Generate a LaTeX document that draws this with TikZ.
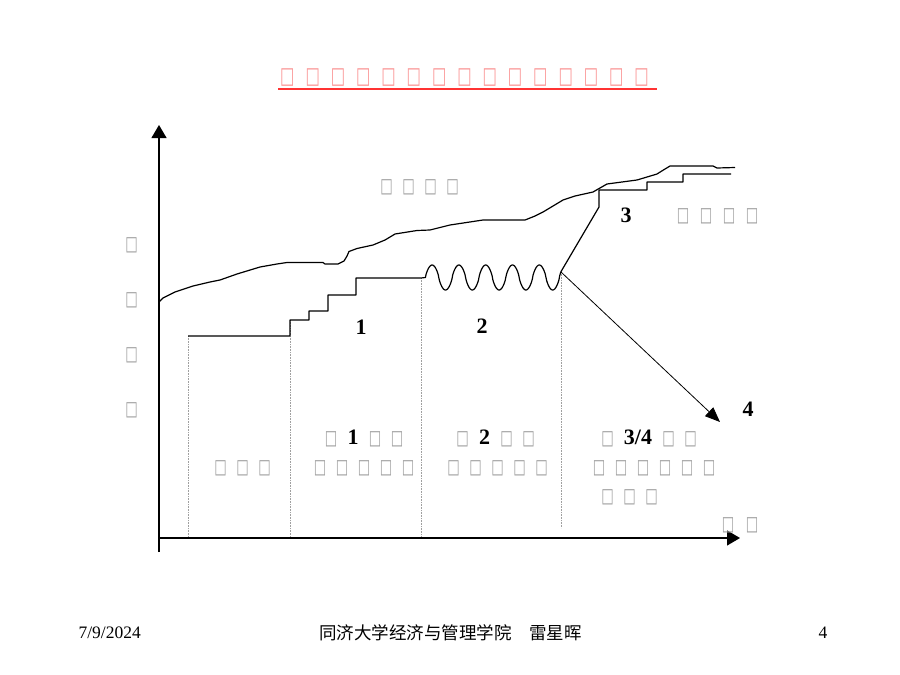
\documentclass[tikz,border=0pt]{standalone}
\usepackage{fontspec}
\usepackage{graphicx}
\setmainfont{Liberation Serif}
\newfontfamily\cjk{Noto Sans CJK SC}
\newfontfamily\tofufont{DejaVu Sans}
\usetikzlibrary{arrows.meta}
\definecolor{tofugray}{RGB}{160,160,160}
\definecolor{tofured}{RGB}{250,150,150}
\definecolor{titlered}{RGB}{255,51,51}
\newcommand{\tofu}[1][22pt]{\makebox[#1]{\scalebox{0.66}[1]{\tofufont □}}}
\newcommand{\stagenum}[2][22pt]{\makebox[#1]{\color{black}\bfseries\fontsize{22}{22}\selectfont #2}}

\begin{document}
\begin{tikzpicture}[x=1pt,y=-1pt,>={Triangle[width=15pt,length=13pt]},line width=1.2pt,
    curve/.style={line width=1.2pt,line join=round},
    guide/.style={densely dotted,tofugray,line width=0.6pt},
    tofu row/.style={inner sep=0pt,text=tofugray,font=\fontsize{20}{20}\selectfont},
    stage label/.style={inner sep=0pt,font=\bfseries\fontsize{22}{22}\selectfont},
    foot/.style={inner sep=0pt,font=\fontsize{17.5}{17.5}\selectfont}]
    \useasboundingbox (0,0) rectangle (900,675);

    \node[tofu row,text=tofured,font=\fontsize{23}{23}\selectfont] (title) at (464.5,78)
        {\tofu[25.3pt]\tofu[25.3pt]\tofu[25.3pt]\tofu[25.3pt]\tofu[25.3pt]\tofu[25.3pt]\tofu[25.3pt]\tofu[25.3pt]\tofu[25.3pt]\tofu[25.3pt]\tofu[25.3pt]\tofu[25.3pt]\tofu[25.3pt]\tofu[25.3pt]\tofu[25.3pt]};
    \coordinate (ul) at (278,88.7);
    \coordinate (ur) at (657,88.7);
    \draw[titlered,line width=1.8pt] (ul) -- (ur);

    \coordinate (o) at (159,538);
    \coordinate (ytop) at (159,125);
    \coordinate (ybot) at (159,552);
    \coordinate (xend) at (740,538);
    \coordinate (s0) at (188,336);
    \coordinate (fork) at (561,272);
    \coordinate (down) at (720,422);

    \foreach \x/\y in {188/336,290/320,421/278}
        \draw[guide] (\x,\y) -- (\x,538);
    \draw[guide] (fork) -- (561,528);

    \draw[->] (ybot) -- (ytop);
    \draw[->] (o) -- (xend);

    \draw[curve] plot coordinates {(159,302) (163,298) (175,292) (193,286) (210,282) (220,280) (237,274)
        (260,267) (277,264) (287,262.5) (323,262.5) (325,264) (338,264) (344,261) (347,256) (349,251.5)
        (357,248.5) (373,245) (385,240) (395,234) (417,230.5) (430,230) (450,225) (483,220) (525,220)
        (535,216) (543,212) (553,206) (563,200) (575,196) (593,192) (607,184) (637,180) (647,177)
        (657,174) (665,169) (670,166) (713,166) (717,168) (735,167.5)};

    \draw[curve] (s0) -- (290,336) -- (290,320) -- (309,320) -- (309,311) -- (328,311) -- (328,295)
        -- (356,295) -- (356,278) -- (421,278) -- (425.4,277.5)
        -- plot[domain=425.4:561,samples=200] (\x,{277.5-12.5*sign(sin(13.4328*(\x-425.4)))*pow(abs(sin(13.4328*(\x-425.4)))+0.0001,0.75)})
        -- (599,207) -- (599,190) -- (647,190) -- (647,182) -- (683,182) -- (683,174) -- (731,174);

    \draw[line width=0.8pt,-{Triangle[width=12pt,length=15pt]}] (fork) -- (down);

    \node[stage label] (n1) at (361,327) {1};
    \node[stage label] (n2) at (482,326) {2};
    \node[stage label] (n3) at (626,215) {3};
    \node[stage label] (n4) at (748,409) {4};

    \foreach \y [count=\i] in {245,300,355,410}
        \node[tofu row] (q\i) at (131.5,\y) {\tofu};

    \node[tofu row] (up) at (419.5,187.5) {\tofu\tofu\tofu\tofu};
    \node[tofu row] (rt) at (717.5,216.5) {\tofu[23pt]\tofu[23pt]\tofu[23pt]\tofu[23pt]};
    \node[tofu row] (p0) at (242.5,468) {\tofu\tofu\tofu};
    \node[tofu row] (p1) at (364,438) {\tofu\stagenum{1}\tofu\tofu};
    \node[tofu row] (p1b) at (364,468) {\tofu\tofu\tofu\tofu\tofu};
    \node[tofu row] (p2) at (495.5,438) {\tofu\stagenum{2}\tofu\tofu};
    \node[tofu row] (p2b) at (497.5,468) {\tofu\tofu\tofu\tofu\tofu};
    \node[tofu row] (p3) at (649,438) {\tofu\stagenum[39pt]{3/4}\tofu\tofu};
    \node[tofu row] (p3b) at (654,468) {\tofu\tofu\tofu\tofu\tofu\tofu};
    \node[tofu row] (p3c) at (629.5,497) {\tofu\tofu\tofu};
    \node[tofu row] (tm) at (740,525) {\tofu[24pt]\tofu[24pt]};

    \node[foot,anchor=west] (date) at (78,633) {7/9/2024};
    \node[foot] (school) at (450.5,633) {\cjk 同济大学经济与管理学院　雷星晖};
    \node[foot] (page) at (823,633) {4};
\end{tikzpicture}
\end{document}
